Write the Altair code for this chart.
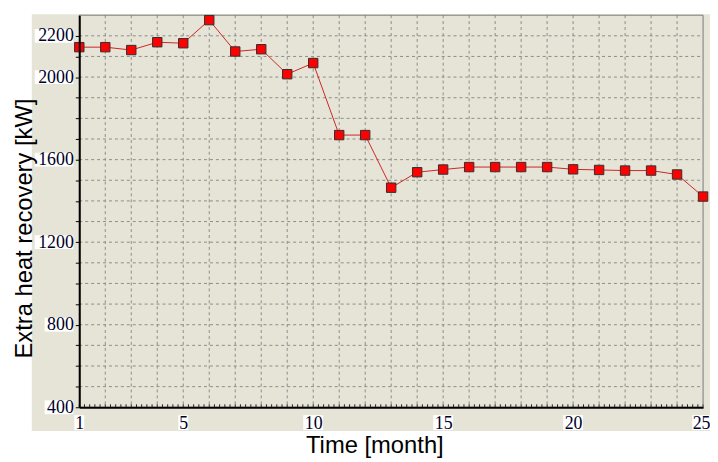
import altair as alt
import pandas as pd

# ---- data ----
months = [1, 2, 3, 4, 5, 6, 7, 8, 9, 10, 11, 12, 13, 14, 15, 16, 17, 18, 19, 20, 21, 22, 23, 24, 25]
recovery = [2145, 2145, 2131, 2169, 2164, 2276, 2124, 2135, 2014, 2068, 1719, 1719,
            1464, 1539, 1552, 1564, 1564, 1564, 1564, 1553, 1550, 1547, 1547, 1528, 1421]
x_labels = [1, 5, 10, 15, 20, 25]
y_labels = [400, 800, 1200, 1600, 2000, 2200]
y_ticks = [400, 500, 600, 700, 800, 900, 1000, 1100, 1200, 1300, 1400, 1500, 1600,
           1700, 1800, 1900, 2000, 2100, 2200]
y_grid = [500, 600, 700, 800, 900, 1000, 1100, 1200, 1300, 1400, 1500, 1600, 1700,
          1800, 1900, 2000, 2100, 2200]
x_grid = [2, 3, 4, 5, 6, 7, 8, 9, 10, 11, 12, 13, 14, 15, 16, 17, 18, 19, 20, 21, 22, 23, 24]

W, H = 630, 396
BEIGE = "#e5e4d6"
GRIDC = "#8c8c8c"
LABELC = "#00002a"
SERIF = "'Liberation Serif', 'Times New Roman', serif"

df = pd.DataFrame({"month": months, "value": recovery})
df_xg = pd.DataFrame({"month": x_grid})
df_yg = pd.DataFrame({"value": y_grid})
df_yl = pd.DataFrame({"value": y_labels})
df_xl = pd.DataFrame({"month": x_labels})

xscale = alt.Scale(domain=[1, 25], nice=False, zero=False)
yscale = alt.Scale(domain=[400, 2300], nice=False, zero=False)

label_list = ",".join(str(v) for v in y_labels)

xaxis = alt.Axis(values=x_labels, format="d", grid=False, ticks=False, domainColor="black",
                 domainWidth=2, labelFont=SERIF, labelFontSize=18,
                 labelColor=LABELC, labelPadding=7, labelFlush=False, labelOverlap=False,
                 labelAlign={"condition": {"test": "datum.value == 25", "value": "right"},
                             "value": "center"},
                 labelOffset={"condition": {"test": "datum.value == 25", "value": 7},
                              "value": 0},
                 title="Time [month]", titleFont="Liberation Sans", titleFontSize=24,
                 titleFontWeight="normal", titleColor="black", titleX=298, titleY=46,
                 titleAlign="center", titleBaseline="alphabetic", zindex=1)
yaxis = alt.Axis(values=y_ticks, format="d",
                 labelExpr=f"indexof([{label_list}], datum.value) >= 0 ? datum.label : ''",
                 grid=False, tickSize=4, tickColor="black", tickWidth=1,
                 domainColor="black", domainWidth=2, labelFont=SERIF,
                 labelFontSize=18, labelColor=LABELC, labelPadding=2, labelFlush=False,
                 labelOverlap=False, labelBaseline="middle",
                 title="Extra heat recovery [kW]", titleFont="Liberation Sans",
                 titleFontSize=24, titleFontWeight="normal", titleColor="black",
                 titleAngle=270, titleX=-48, titleY=215, titleAlign="center",
                 titleBaseline="alphabetic", zindex=1)

X = lambda: alt.X("month:Q", scale=xscale, axis=xaxis)
Y = lambda: alt.Y("value:Q", scale=yscale, axis=yaxis)

bg = alt.Chart(pd.DataFrame({"k": [0]})).mark_rect(color=BEIGE).encode(
    x=alt.value(-48), x2=alt.value(W + 10), y=alt.value(-1), y2=alt.value(H + 24))

vgrid = alt.Chart(df_xg).mark_rule(color=GRIDC, strokeDash=[3, 3], strokeWidth=1).encode(
    x=X(), y=alt.value(0), y2=alt.value(H))
hgrid = alt.Chart(df_yg).mark_rule(color=GRIDC, strokeDash=[3, 3], strokeWidth=1).encode(
    y=Y(), x=alt.value(0), x2=alt.value(W))

# small minor ticks standing on the bottom axis
minor = alt.Chart(alt.sequence(1, 25.01, 0.2, as_="month")).mark_rule(
    color="#202020", strokeWidth=1).encode(x=X(), y=alt.value(H - 3), y2=alt.value(H))

frame = alt.Chart(pd.DataFrame({"k": [0]})).mark_rect(
    fillOpacity=0, stroke="#7a7a7a", strokeWidth=1).encode(
    x=alt.value(0), x2=alt.value(W), y=alt.value(0), y2=alt.value(H))

ybox4 = alt.Chart(df_yl).transform_filter("datum.value >= 1000").mark_rect(
    color="white", yOffset=-7, y2Offset=7).encode(
    y=Y(), y2=alt.Y2("value"), x=alt.value(-45), x2=alt.value(-6))
ybox3 = alt.Chart(df_yl).transform_filter("datum.value < 1000").mark_rect(
    color="white", yOffset=-7, y2Offset=7).encode(
    y=Y(), y2=alt.Y2("value"), x=alt.value(-35), x2=alt.value(-6))
xbox2 = alt.Chart(df_xl).transform_filter("datum.month >= 10 && datum.month < 25").mark_rect(
    color="white", xOffset=-10, x2Offset=10).encode(
    x=X(), x2=alt.X2("month"), y=alt.value(H + 8), y2=alt.value(H + 23))
xbox_end = alt.Chart(df_xl).transform_filter("datum.month == 25").mark_rect(
    color="white", xOffset=-11, x2Offset=8).encode(
    x=X(), x2=alt.X2("month"), y=alt.value(H + 8), y2=alt.value(H + 23))
xbox1 = alt.Chart(df_xl).transform_filter("datum.month < 10").mark_rect(
    color="white", xOffset=-5, x2Offset=5).encode(
    x=X(), x2=alt.X2("month"), y=alt.value(H + 8), y2=alt.value(H + 23))

line = alt.Chart(df).mark_line(color="#cc2525", strokeWidth=1).encode(x=X(), y=Y())
pts = alt.Chart(df).mark_square(size=90, filled=True, color="#ff0000", stroke="#303030",
                                strokeWidth=1, opacity=1).encode(x=X(), y=Y())

chart = alt.layer(bg, vgrid, hgrid, minor, frame, ybox4, ybox3, xbox2, xbox_end, xbox1,
                  line, pts).properties(
    width=W, height=H,
    padding={"left": 72, "top": 5, "right": 7, "bottom": 50},
    autosize=alt.AutoSizeParams(type="none"),
    background="white",
).configure_view(stroke=None, fill=BEIGE)

chart.save("out.html", embed_options={"renderer": "svg", "actions": False})
